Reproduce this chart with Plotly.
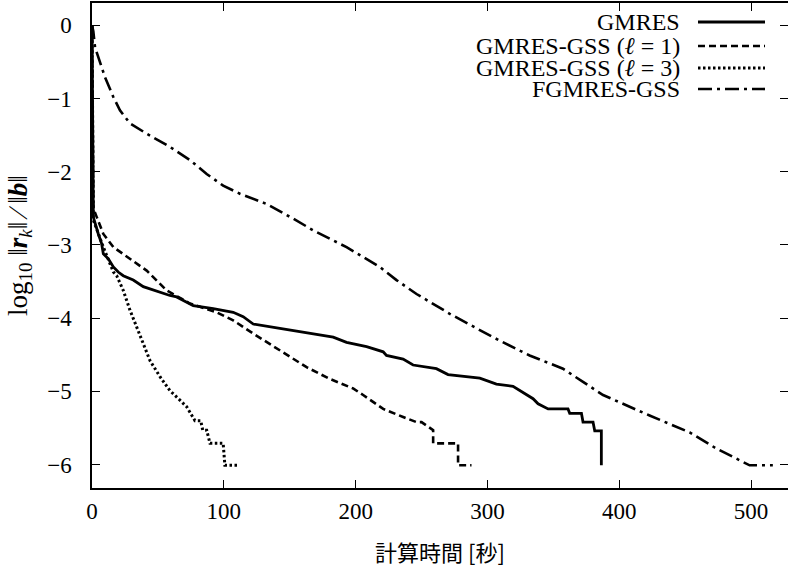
import plotly.graph_objects as go

# ---------------- data ----------------
gmres_t = [0, 0.3, 1.0, 4.8, 7.3, 8.6, 12.4, 16.2, 19.9, 23.7, 31.3, 38.9, 50.3, 59.1, 64.2,
           76.8, 92.0, 107.1, 114.7, 122.3, 142.5, 167.8, 183.0, 193.1, 208.3, 220.9, 223.4,
           236.0, 243.6, 261.3, 270.1, 294.2, 306.8, 319.4, 327.0, 334.6, 338.4, 346.0,
           361.1, 362.4, 371.3, 372.5, 380.1, 381.4, 386.4, 386.4]
gmres_r = [0, -1.5, -2.62, -2.85, -2.98, -3.12, -3.19, -3.30, -3.37, -3.42, -3.48, -3.57, -3.64,
           -3.69, -3.71, -3.83, -3.87, -3.92, -3.98, -4.08, -4.14, -4.21, -4.26, -4.33, -4.39,
           -4.46, -4.51, -4.56, -4.64, -4.69, -4.77, -4.82, -4.90, -4.93, -5.01, -5.10, -5.17,
           -5.24, -5.24, -5.30, -5.30, -5.42, -5.42, -5.54, -5.54, -6.01]

gss1_t = [0, 0.3, 1.0, 3.6, 8.6, 16.2, 28.8, 41.5, 56.6, 74.3, 94.5, 107.1, 122.3, 142.5,
          162.8, 180.4, 198.1, 205.7, 220.9, 236.0, 246.2, 250.0, 258.8, 258.8, 277.7, 277.7, 287.9]
gss1_r = [0, -1.4, -2.5, -2.62, -2.85, -3.03, -3.19, -3.35, -3.62, -3.80, -3.92, -4.03, -4.21,
          -4.44, -4.67, -4.83, -4.96, -5.05, -5.24, -5.35, -5.42, -5.42, -5.53, -5.71, -5.71,
          -6.01, -6.01]

gss3_t = [0, 0.3, 1.0, 8.6, 16.2, 18.7, 23.7, 28.8, 33.9, 38.9, 44.0, 51.6, 59.1, 66.7, 71.8,
          78.1, 82.5, 84.0, 87.0, 89.5, 99.5, 100.8, 110.9]
gss3_r = [0, -1.5, -2.66, -3.03, -3.37, -3.42, -3.62, -3.89, -4.12, -4.35, -4.58, -4.80, -4.99,
          -5.12, -5.21, -5.40, -5.40, -5.53, -5.53, -5.71, -5.71, -6.01, -6.01]

fgm_t = [0, 1.0, 2.3, 9.9, 16.2, 21.2, 28.8, 41.5, 59.1, 74.3, 87.0, 99.5, 112.2, 132.4,
         152.6, 167.8, 193.1, 218.3, 231.0, 246.2, 271.4, 304.2, 332.0, 357.3, 372.5, 387.7,
         423.0, 453.4, 473.6, 498.9, 516.5]
fgm_r = [0, -0.08, -0.30, -0.71, -0.98, -1.16, -1.34, -1.48, -1.66, -1.84, -2.03, -2.19, -2.30,
         -2.44, -2.64, -2.80, -3.03, -3.30, -3.48, -3.67, -3.94, -4.26, -4.51, -4.69, -4.87,
         -5.05, -5.33, -5.56, -5.78, -6.01, -6.01]

NB = "\u00a0"
names = ["GMRES",
         f"GMRES-GSS{NB}(<i>ℓ</i>{NB}={NB}1)",
         f"GMRES-GSS{NB}(<i>ℓ</i>{NB}={NB}3)",
         "FGMRES-GSS"]
dashes = ["solid", "7px,4px", "2.5px,2.5px", "14px,5px,3px,5px"]
widths = [2.8, 2.6, 3.0, 2.6]
x_ticks = [0, 100, 200, 300, 400, 500]
y_ticks = [0, -1, -2, -3, -4, -5, -6]

series = [(gmres_t, gmres_r), (gss1_t, gss1_r), (gss3_t, gss3_r), (fgm_t, fgm_r)]

W, H = 788, 567
ML, MR, MT, MB = 92, 0, 3, 79
SERIF = "Liberation Serif, Times New Roman, serif"

fig = go.Figure()
for (t, r), nm, ds, lw in zip(series, names, dashes, widths):
    fig.add_trace(go.Scatter(x=t, y=r, mode="lines", name=nm, showlegend=False,
                             line=dict(color="black", width=lw, dash=ds)))

# legend drawn gnuplot-style: right-aligned text, sample on the right
pw, ph = W - ML - MR, H - MT - MB
def px2x(px):
    return (px - ML) / pw
def py2y(py):
    return (H - MB - py) / ph

row_y = [22, 46, 68, 89]
for nm, ds, lw, yy in zip(names, dashes, widths, row_y):
    fig.add_annotation(xref="paper", yref="paper", x=px2x(682), y=py2y(yy),
                       xanchor="right", yanchor="middle", text=nm, showarrow=False,
                       font=dict(family=SERIF, size=24, color="black"))
    fig.add_shape(type="line", xref="paper", yref="paper",
                  x0=px2x(698), x1=px2x(765), y0=py2y(yy), y1=py2y(yy),
                  line=dict(color="black", width=lw, dash=ds))

axis_common = dict(showline=True, linecolor="black", linewidth=1.5, mirror="ticks",
                   ticks="inside", ticklen=8, tickwidth=1.2, tickcolor="black",
                   showgrid=False, zeroline=False,
                   tickfont=dict(family=SERIF, size=23, color="black"))

fig.update_xaxes(range=[0, 528], tickvals=x_ticks, ticklabelstandoff=2,
                 title=dict(text="計算時間 [秒]", standoff=24,
                            font=dict(family="Noto Sans CJK JP", size=22, color="black")),
                 **axis_common)
fig.update_yaxes(range=[-6.32, 0.305], tickvals=y_ticks, ticklabelstandoff=14,
                 title=dict(text="log<sub>10</sub>" + NB + "‖<b><i>r</i></b><sub><i>k</i></sub>‖" + NB + "∕" + NB + "‖<b><i>b</i></b>‖",
                            standoff=12, font=dict(family=SERIF, size=27, color="black")),
                 **axis_common)

fig.update_layout(width=W, height=H, margin=dict(l=ML, r=MR, t=MT, b=MB, autoexpand=False),
                  paper_bgcolor="white", plot_bgcolor="white", showlegend=False)

fig.write_html("out.html", config={"displayModeBar": False},
               post_script="document.body.style.margin='0';")
